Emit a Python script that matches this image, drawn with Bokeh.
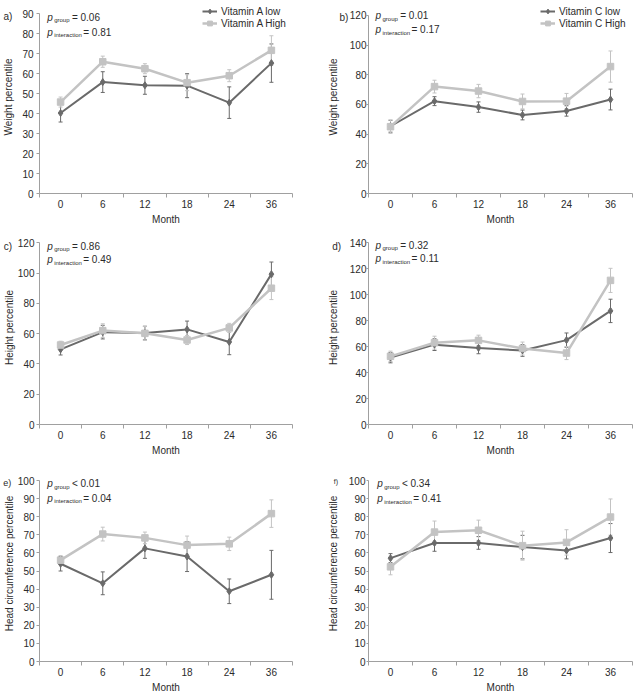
from bokeh.plotting import figure
from bokeh.layouts import column, row
from bokeh.models import (Range1d, FixedTicker, Label, Legend, LegendItem,
                          Whisker, ColumnDataSource, TeeHead)
from bokeh.core.properties import value
from bokeh.embed import file_html
from bokeh.resources import INLINE

# ---- data -------------------------------------------------------------
months = ["0", "6", "12", "18", "24", "36"]

# a) weight percentile, vitamin A
wt_a_low = [40.3, 55.8, 54.2, 54.0, 45.5, 65.3]
wt_a_low_err = [4.5, 5.2, 4.5, 6.0, 7.9, 9.6]
wt_a_high = [45.8, 66.0, 62.5, 55.5, 59.0, 71.7]
wt_a_high_err = [2.5, 2.8, 2.5, 4.0, 3.0, 7.3]

# b) weight percentile, vitamin C
wt_c_low = [45.3, 62.2, 58.2, 52.9, 55.6, 63.3]
wt_c_low_err = [4.0, 3.0, 3.5, 3.3, 3.5, 7.0]
wt_c_high = [45.0, 72.0, 69.0, 62.0, 62.2, 85.5]
wt_c_high_err = [4.5, 4.3, 4.5, 5.0, 5.2, 10.5]

# c) height percentile, vitamin A
ht_a_low = [49.6, 61.0, 60.4, 62.8, 54.5, 99.3]
ht_a_low_err = [3.7, 4.5, 4.5, 5.5, 8.4, 8.0]
ht_a_high = [52.5, 62.0, 60.2, 55.8, 63.8, 90.0]
ht_a_high_err = [2.5, 4.5, 4.5, 3.0, 3.0, 7.5]

# d) height percentile, vitamin C
ht_c_low = [51.5, 61.5, 59.0, 57.0, 65.0, 87.5]
ht_c_low_err = [4.0, 4.5, 4.5, 4.5, 5.5, 9.0]
ht_c_high = [52.5, 63.0, 64.8, 58.5, 55.0, 111.0]
ht_c_high_err = [4.0, 5.0, 4.0, 5.0, 5.0, 9.3]

# e) head circumference percentile, vitamin A
hc_a_low = [54.0, 43.2, 62.5, 58.0, 38.8, 47.9]
hc_a_low_err = [4.0, 6.3, 5.5, 8.3, 6.8, 13.5]
hc_a_high = [56.0, 70.4, 68.3, 64.3, 65.0, 81.7]
hc_a_high_err = [2.5, 3.8, 3.2, 5.0, 3.7, 7.6]

# f) head circumference percentile, vitamin C
hc_c_low = [57.1, 65.5, 65.5, 63.2, 61.3, 68.2]
hc_c_low_err = [2.5, 4.6, 3.5, 6.5, 4.6, 8.0]
hc_c_high = [52.3, 71.5, 72.5, 64.0, 65.8, 79.8]
hc_c_high_err = [4.4, 6.1, 5.6, 8.0, 7.0, 10.0]

p_group = ["= 0.06", "= 0.01", "= 0.86", "= 0.32", "< 0.01", "< 0.34"]
p_interaction = ["= 0.81", "= 0.17", "= 0.49", "= 0.11", "= 0.04", "= 0.41"]

# ---- style ------------------------------------------------------------
DARK = "#6a6a6a"
LIGHT = "#c3c3c3"
AXIS = "#a0a0a0"
TEXT = "#2b2b2b"
FONT = "Liberation Sans"
FS = "10px"


def make_panel(letter, ylabel, ymax, ystep, low, low_err, high, high_err,
               pg, pi, legend_names, w, h, left, right, top_px, bottom,
               label_standoff, tick_out, tick_standoff, letter_xy, p_xy,
               letter_fs="10px", legend_xy=None):
    # frame reaches the top edge of the figure so that the p-values and the
    # legend can sit above the end of the y axis; the axis itself is bounded.
    frame_h = h - bottom
    frame_w = w - left - right
    y_end = ymax * frame_h / (frame_h - top_px)

    fig = figure(width=w, height=h, output_backend="svg", toolbar_location=None,
                 x_range=Range1d(0.5, len(months) + 0.5),
                 y_range=Range1d(0, y_end),
                 min_border_left=left, min_border_right=right,
                 min_border_top=0, min_border_bottom=bottom,
                 title=None)
    fig.outline_line_color = None
    fig.grid.visible = False
    fig.background_fill_color = "white"
    fig.border_fill_color = "white"

    xs = [i + 1 for i in range(len(months))]

    # x axis: month labels centred, tick marks between months
    xa = fig.xaxis[0]
    xa.ticker = FixedTicker(ticks=xs, minor_ticks=[i + 0.5 for i in range(len(months) + 1)])
    xa.major_label_overrides = {x: m for x, m in zip(xs, months)}
    xa.major_tick_out = 0
    xa.major_tick_in = 0
    xa.minor_tick_out = 4
    xa.minor_tick_in = 0
    xa.minor_tick_line_color = AXIS
    xa.axis_line_color = AXIS
    xa.major_label_standoff = 2
    xa.axis_label = "Month"
    xa.axis_label_standoff = 3

    ya = fig.yaxis[0]
    ya.ticker = FixedTicker(ticks=list(range(0, ymax + 1, ystep)))
    ya.bounds = (0, ymax)
    ya.major_tick_out = tick_out
    ya.major_tick_in = 0
    ya.minor_tick_out = 0
    ya.minor_tick_in = 0
    ya.major_tick_line_color = AXIS
    ya.axis_line_color = AXIS
    ya.major_label_standoff = tick_standoff
    ya.axis_label = ylabel
    ya.axis_label_standoff = label_standoff

    for ax in (xa, ya):
        ax.major_label_text_font = FONT
        ax.major_label_text_font_size = FS
        ax.major_label_text_color = TEXT
        ax.axis_label_text_font = FONT
        ax.axis_label_text_font_size = FS
        ax.axis_label_text_font_style = "normal"
        ax.axis_label_text_color = TEXT

    renderers = []
    for vals, errs, color, marker, size, lw in (
            (low, low_err, DARK, "diamond", 7, 2),
            (high, high_err, LIGHT, "square", 6.5, 2.5)):
        src = ColumnDataSource(dict(
            x=xs, y=vals,
            lo=[v - e for v, e in zip(vals, errs)],
            hi=[v + e for v, e in zip(vals, errs)]))
        fig.add_layout(Whisker(base="x", lower="lo", upper="hi", source=src,
                               line_color=color, line_width=1,
                               upper_head=TeeHead(size=4, line_color=color, line_width=1),
                               lower_head=TeeHead(size=4, line_color=color, line_width=1)))
        lr = fig.line("x", "y", source=src, line_color=color, line_width=lw)
        sr = fig.scatter("x", "y", source=src, marker=marker, size=size,
                         fill_color=color, line_color=color)
        renderers.append([lr, sr])

    if legend_names:
        leg = Legend(items=[LegendItem(label=n, renderers=r)
                            for n, r in zip(legend_names, renderers)],
                     location=legend_xy, border_line_color=None,
                     background_fill_alpha=0, padding=0, margin=0, spacing=0,
                     glyph_width=15, glyph_height=12, label_height=12,
                     label_standoff=4, label_text_font=FONT,
                     label_text_font_size=FS, label_text_color=TEXT)
        fig.add_layout(leg)

    # p-values with subscripts (positions in figure pixels, top-left origin)
    px, (py1, py2) = p_xy
    for sub, txt, sub_w, py in (("group", pg, 17.7, py1), ("interaction", pi, 29.0, py2)):
        base = frame_h - py
        x0 = px - left
        fig.add_layout(Label(x=x0, y=base, x_units="screen", y_units="screen",
                             text="p", text_font=FONT, text_font_size=FS,
                             text_font_style="italic", text_color=TEXT,
                             text_baseline="alphabetic"))
        fig.add_layout(Label(x=x0 + 7, y=base - 3, x_units="screen", y_units="screen",
                             text=sub, text_font=FONT, text_font_size="6px",
                             text_color=TEXT, text_baseline="alphabetic"))
        fig.add_layout(Label(x=x0 + 7 + sub_w, y=base, x_units="screen", y_units="screen",
                             text=txt, text_font=FONT, text_font_size=FS,
                             text_color=TEXT, text_baseline="alphabetic"))

    # panel letter, left of the y axis
    lx, ly = letter_xy
    tx = 0.5 + (lx - left) * len(months) / frame_w
    ty = y_end * (frame_h - ly) / frame_h
    fig.text(x=[tx], y=[ty], text=[letter], text_font=value(FONT),
             text_font_size=letter_fs, text_color=TEXT,
             text_baseline="alphabetic", level="overlay")
    return fig


pa = make_panel("a)", "Weight percentile", 90, 10, wt_a_low, wt_a_low_err,
                wt_a_high, wt_a_high_err, p_group[0], p_interaction[0],
                ["Vitamin A low", "Vitamin A High"],
                320, 230, 39, 28, 13.3, 37, 5, 3, 3, (3, 16), (46.7, (16.7, 31.7)),
                legend_xy=(163, 164))
pb = make_panel("b)", "Weight percentile", 120, 20, wt_c_low, wt_c_low_err,
                wt_c_high, wt_c_high_err, p_group[1], p_interaction[1],
                ["Vitamin C low", "Vitamin C High"],
                319, 230, 48, 7, 15, 35, 8, 2, 0, (19.0, 17.3), (55, (17.3, 31)),
                legend_xy=(172, 164))
pc = make_panel("c)", "Height percentile", 120, 20, ht_a_low, ht_a_low_err,
                ht_a_high, ht_a_high_err, p_group[2], p_interaction[2], None,
                320, 235, 39, 28, 12.3, 41, 0, 3, 2, (3.3, 15.7), (46.7, (15.7, 29.3)))
pd = make_panel("d)", "Height percentile", 140, 20, ht_c_low, ht_c_low_err,
                ht_c_high, ht_c_high_err, p_group[3], p_interaction[3], None,
                319, 235, 48, 7, 12.3, 40, 8, 2, 0, (11.7, 15.7), (55, (15.7, 29.3)))
pe = make_panel("e)", "Head circumference percentile", 100, 10, hc_a_low, hc_a_low_err,
                hc_a_high, hc_a_high_err, p_group[4], p_interaction[4], None,
                320, 232, 39, 28, 15, 36, 0, 3, 2, (2.7, 17.3), (46.7, (18.3, 32.7)),
                letter_fs="9px")
pf = make_panel("f)", "Head circumference percentile", 100, 10, hc_c_low, hc_c_low_err,
                hc_c_high, hc_c_high_err, p_group[5], p_interaction[5], None,
                319, 232, 48, 7, 15, 36, 7, 2, 1, (13.3, 15.5), (56.7, (18.3, 33.3)),
                letter_fs="7px")

layout = column(row(pa, pb), row(pc, pd), row(pe, pf))

with open("out.html", "w") as fh_out:
    fh_out.write(file_html(layout, INLINE))
